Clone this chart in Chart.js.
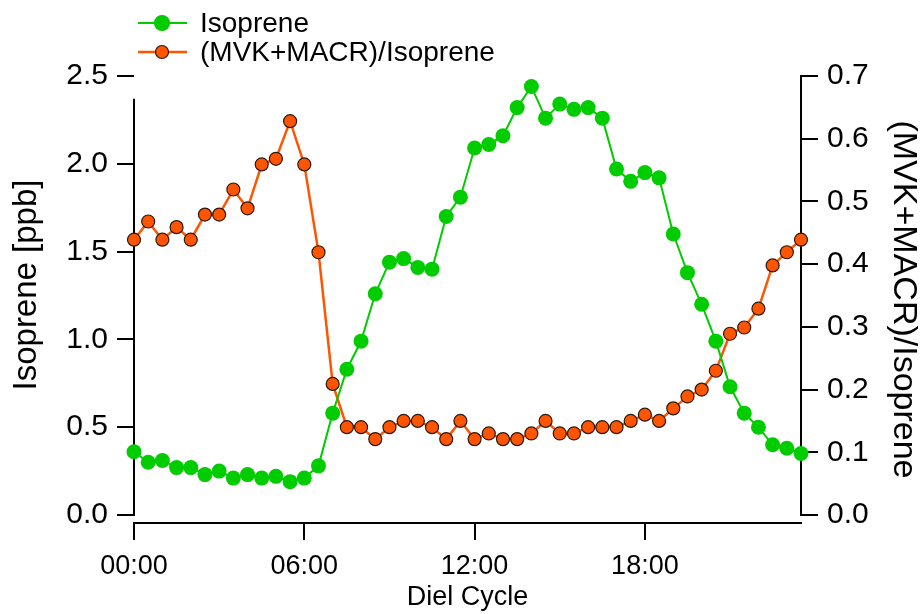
<!DOCTYPE html>
<html>
<head>
<meta charset="utf-8">
<script src="https://cdn.jsdelivr.net/npm/chart.js@4"></script>
<style>
  body { margin: 0; background: #fff; }
</style>
</head>
<body>
<canvas id="dielChart" width="924" height="614"></canvas>
<script>
// Horas del ciclo diario (cada media hora)
const timeLabels = [
    '00:00', '00:30', '01:00', '01:30', '02:00', '02:30', '03:00', '03:30',
    '04:00', '04:30', '05:00', '05:30', '06:00', '06:30', '07:00', '07:30',
    '08:00', '08:30', '09:00', '09:30', '10:00', '10:30', '11:00', '11:30',
    '12:00', '12:30', '13:00', '13:30', '14:00', '14:30', '15:00', '15:30',
    '16:00', '16:30', '17:00', '17:30', '18:00', '18:30', '19:00', '19:30',
    '20:00', '20:30', '21:00', '21:30', '22:00', '22:30', '23:00', '23:30'
];

// Isopreno [ppb]
const isoprene = [
    0.36, 0.30, 0.31, 0.27, 0.27, 0.23, 0.25, 0.21, 0.23, 0.21, 0.22, 0.19,
    0.21, 0.28, 0.58, 0.83, 0.99, 1.26, 1.44, 1.46, 1.41, 1.40, 1.70, 1.81,
    2.09, 2.11, 2.16, 2.32, 2.44, 2.26, 2.34, 2.31, 2.32, 2.26, 1.97, 1.90,
    1.95, 1.92, 1.60, 1.38, 1.20, 0.99, 0.73, 0.58, 0.50, 0.40, 0.38, 0.35
];

// (MVK+MACR)/Isopreno
const ratio = [
    0.439, 0.468, 0.439, 0.459, 0.439, 0.479, 0.479, 0.519, 0.489, 0.559, 0.568, 0.628,
    0.559, 0.419, 0.209, 0.140, 0.140, 0.121, 0.140, 0.150, 0.150, 0.140, 0.121, 0.150,
    0.121, 0.130, 0.121, 0.121, 0.130, 0.150, 0.130, 0.130, 0.140, 0.140, 0.140, 0.150,
    0.160, 0.150, 0.170, 0.189, 0.200, 0.230, 0.289, 0.299, 0.329, 0.398, 0.419, 0.439
];

// Marcas de los ejes
const leftTicks = [0, 0.5, 1.0, 1.5, 2.0, 2.5];
const rightTicks = [0, 0.1, 0.2, 0.3, 0.4, 0.5, 0.6, 0.7];
const xTickEvery = 12; // una etiqueta cada 6 horas

const FONT = '"Liberation Sans", Arial, sans-serif';
const GREEN = '#00cc00';
const ORANGE = '#ff5500';

// Lineas de los ejes Y, titulo izquierdo y leyenda (estilo Igor)
const axisLines = {
    id: 'axisLines',
    beforeDatasetsDraw(chart) {
        const ctx = chart.ctx;
        const yL = chart.scales.y;
        const yR = chart.scales.y1;
        ctx.save();
        ctx.strokeStyle = '#000';
        ctx.lineWidth = 2;
        ctx.beginPath();
        ctx.moveTo(yL.right, yL.getPixelForValue(2.37));
        ctx.lineTo(yL.right, yL.getPixelForValue(0) + 1);
        ctx.moveTo(yR.left, yR.getPixelForValue(0.7) - 1);
        ctx.lineTo(yR.left, yR.getPixelForValue(0) + 1);
        ctx.stroke();

        // titulo del eje izquierdo
        ctx.translate(27, 285);
        ctx.rotate(-Math.PI / 2);
        ctx.fillStyle = '#000';
        ctx.font = '33px ' + FONT;
        ctx.textAlign = 'center';
        ctx.textBaseline = 'middle';
        ctx.fillText('Isoprene [ppb]', 0, 0);
        ctx.restore();
    },
    afterDraw(chart) {
        const ctx = chart.ctx;
        const items = [
            { text: 'Isoprene', color: GREEN, border: GREEN, r: 7.5, lw: 2, y: 23 },
            { text: '(MVK+MACR)/Isoprene', color: ORANGE, border: '#2a1a10', r: 6.5, lw: 2.5, y: 52 }
        ];
        ctx.save();
        items.forEach(it => {
            ctx.strokeStyle = it.color;
            ctx.lineWidth = it.lw;
            ctx.beginPath();
            ctx.moveTo(138, it.y);
            ctx.lineTo(187, it.y);
            ctx.stroke();
            ctx.beginPath();
            ctx.arc(162, it.y, it.r, 0, Math.PI * 2);
            ctx.fillStyle = it.color;
            ctx.fill();
            ctx.lineWidth = 1.2;
            ctx.strokeStyle = it.border;
            ctx.stroke();
            ctx.fillStyle = '#000';
            ctx.font = '28px ' + FONT;
            ctx.textBaseline = 'middle';
            ctx.fillText(it.text, 200, it.y + 1);
        });
        ctx.restore();
    }
};

const ctx = document.getElementById('dielChart').getContext('2d');
const dielChart = new Chart(ctx, {
    type: 'line',
    data: {
        labels: timeLabels,
        datasets: [
            {
                label: 'Isoprene',
                data: isoprene,
                yAxisID: 'y',
                borderColor: GREEN,
                backgroundColor: GREEN,
                borderWidth: 2,
                pointRadius: 7.5,
                pointBorderWidth: 0,
                pointBackgroundColor: GREEN,
                tension: 0,
                clip: false
            },
            {
                label: '(MVK+MACR)/Isoprene',
                data: ratio,
                yAxisID: 'y1',
                borderColor: ORANGE,
                backgroundColor: ORANGE,
                borderWidth: 2.5,
                pointRadius: 6.5,
                pointBorderWidth: 1.2,
                pointBorderColor: '#2a1a10',
                pointBackgroundColor: ORANGE,
                tension: 0,
                clip: false
            }
        ]
    },
    options: {
        responsive: false,
        animation: false,
        layout: { padding: { top: 76, left: 0, right: 0, bottom: 0 } },
        plugins: {
            legend: { display: false },
            tooltip: { enabled: false }
        },
        scales: {
            x: {
                type: 'category',
                offset: false,
                afterBuildTicks: scale => {
                    scale.ticks = scale.ticks.filter(t => t.value % xTickEvery === 0);
                },
                afterFit: scale => { scale.height = 91; },
                border: { display: true, color: '#000', width: 2 },
                grid: { drawOnChartArea: false, drawTicks: true, tickLength: 17, color: '#000', lineWidth: 2 },
                ticks: {
                    autoSkip: false,
                    maxRotation: 0,
                    padding: 10,
                    color: '#000',
                    font: { family: FONT, size: 27 }
                },
                title: {
                    display: true,
                    text: 'Diel Cycle',
                    color: '#000',
                    padding: { top: 0, bottom: 0 },
                    font: { family: FONT, size: 27 }
                }
            },
            y: {
                position: 'left',
                min: -0.0456,
                max: 2.5,
                afterBuildTicks: scale => { scale.ticks = leftTicks.map(v => ({ value: v })); },
                afterFit: scale => { scale.width = 134; },
                border: { display: false },
                grid: { drawOnChartArea: false, drawTicks: true, tickLength: 17, color: '#000', lineWidth: 2 },
                ticks: {
                    padding: 9,
                    color: '#000',
                    font: { family: FONT, size: 30 },
                    callback: v => v.toFixed(1)
                },
                title: { display: false }
            },
            y1: {
                position: 'right',
                min: -0.01276,
                max: 0.7,
                afterBuildTicks: scale => { scale.ticks = rightTicks.map(v => ({ value: v })); },
                afterFit: scale => { scale.width = 123; },
                border: { display: false },
                grid: { drawOnChartArea: false, drawTicks: true, tickLength: 17, color: '#000', lineWidth: 2 },
                ticks: {
                    padding: 9,
                    color: '#000',
                    font: { family: FONT, size: 30 },
                    callback: v => v.toFixed(1)
                },
                title: {
                    display: true,
                    text: '(MVK+MACR)/Isoprene',
                    color: '#000',
                    padding: { top: 0, bottom: 0 },
                    font: { family: FONT, size: 34 }
                }
            }
        }
    },
    plugins: [axisLines]
});
</script>
</body>
</html>
